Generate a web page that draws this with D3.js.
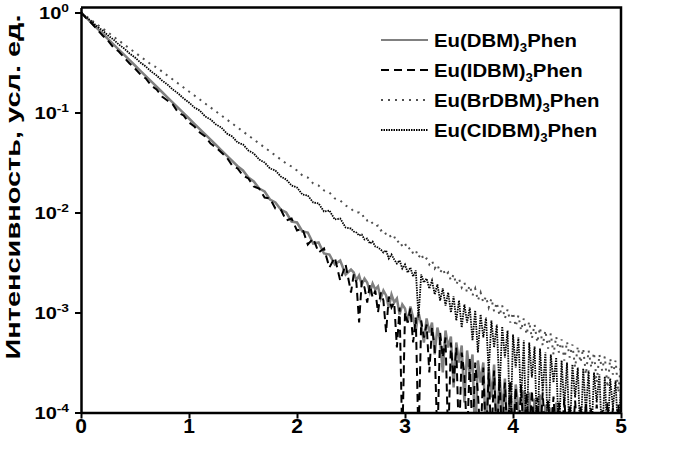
<!DOCTYPE html>
<html><head><meta charset="utf-8">
<script src="https://cdn.jsdelivr.net/npm/d3@7"></script>
<style>
body{margin:0;background:#fff}
svg{display:block}
text{font-family:Arial,"Liberation Sans",sans-serif;font-weight:bold;fill:#000}
</style>
</head><body>
<svg id="c" width="678" height="452"></svg>
<script>
// time (x axis)
const times=[0,0.05,0.1,0.15,0.2,0.25,0.3,0.35,0.4,0.45,0.5,0.55,0.6,0.65,0.7,0.75,0.8,0.85,0.9,0.95,
1,1.05,1.1,1.15,1.2,1.25,1.3,1.35,1.4,1.45,1.5,1.55,1.6,1.65,1.7,1.75,1.8,1.85,1.9,1.95,
2,2.05,2.1,2.15,2.2,2.25,2.3,2.35,2.4,2.45,
2.5,2.525,2.55,2.575,2.6,2.625,2.65,2.675,2.7,2.725,2.75,2.775,2.8,2.825,2.85,2.875,2.9,2.925,2.95,2.975,
3,3.025,3.05,3.075,3.1,3.125,3.15,3.175,3.2,3.225,3.25,3.275,3.3,3.325,3.35,3.375,3.4,3.425,3.45,3.475,
3.5,3.525,3.55,3.575,3.6,3.625,3.65,3.675,3.7,3.725,3.75,3.775,3.8,3.825,3.85,3.875,3.9,3.925,3.95,3.975,
4,4.025,4.05,4.075,4.1,4.125,4.15,4.175,4.2,4.225,4.25,4.275,4.3,4.325,4.35,4.375,4.4,4.425,4.45,4.475,
4.5,4.525,4.55,4.575,4.6,4.625,4.65,4.675,4.7,4.725,4.75,4.775,4.8,4.825,4.85,4.875,4.9,4.925,4.95,4.975,5];

// log10 of intensity
const dbmLog=[0,-0.053,-0.106,-0.159,-0.212,-0.265,-0.318,-0.371,-0.424,-0.477,
-0.53,-0.583,-0.636,-0.689,-0.742,-0.795,-0.848,-0.901,-0.954,-1.007,
-1.06,-1.113,-1.166,-1.219,-1.272,-1.325,-1.378,-1.431,-1.484,-1.537,
-1.58,-1.65,-1.69,-1.76,-1.79,-1.87,-1.90,-1.97,-2.00,-2.09,
-2.10,-2.19,-2.20,-2.31,-2.30,-2.41,-2.42,-2.52,-2.48,-2.62,
-2.57,-2.60,-2.68,-2.63,-2.72,-2.66,-2.70,-2.80,-2.71,-2.77,-2.74,-2.86,-2.78,-2.83,-2.95,-2.82,-2.90,-2.86,-3.02,-2.92,
-2.96,-3.10,-2.94,-3.05,-3.18,-3.00,-3.12,-3.30,-3.06,-3.20,-3.10,-3.42,-3.15,-3.28,-3.60,-3.18,-3.35,-3.24,-3.75,-3.30,
-3.50,-3.33,-3.90,-3.38,-3.62,-3.42,-4.3,-3.48,-3.70,-3.50,-4.3,-3.55,-3.85,-3.52,-4.3,-3.62,-4.0,-3.66,-4.3,-3.70,
-4.3,-3.72,-3.95,-4.3,-3.78,-4.3,-3.80,-4.3,-3.86,-4.3,-3.82,-4.3,-3.92,-4.3,-3.95,-4.3,-3.90,-4.3,-4.3,-3.98,
-4.3,-4.3,-4.3,-4.3,-4.3,-3.96,-4.3,-4.3,-4.3,-4.3,-4.3,-4.3,-4.3,-4.3,-4.3,-4.3,-4.3,-4.3,-4.3,-4.3,-4.3];

const idbmLog=[0,-0.06,-0.11,-0.17,-0.23,-0.28,-0.35,-0.39,-0.45,-0.51,
-0.56,-0.62,-0.66,-0.73,-0.77,-0.84,-0.88,-0.92,-1.00,-1.03,
-1.10,-1.14,-1.20,-1.24,-1.31,-1.35,-1.40,-1.45,-1.53,-1.56,
-1.63,-1.66,-1.74,-1.76,-1.85,-1.86,-1.96,-1.97,-2.08,-2.06,
-2.18,-2.16,-2.32,-2.26,-2.40,-2.36,-2.55,-2.45,-2.68,-2.52,
-2.80,-2.62,-2.70,-3.10,-2.68,-2.75,-2.90,-2.72,-2.85,-2.78,-3.00,-2.80,-2.88,-3.20,-2.84,-2.95,-2.90,-3.35,-2.95,-4.3,
-3.00,-3.10,-2.96,-3.30,-3.05,-4.3,-3.08,-3.25,-3.12,-3.60,-3.15,-3.35,-4.3,-3.20,-3.45,-3.25,-4.3,-3.30,-3.70,-3.35,
-4.3,-3.40,-3.62,-4.3,-3.45,-4.3,-3.50,-3.80,-4.3,-3.55,-4.3,-3.60,-4.3,-3.58,-4.3,-3.66,-4.3,-3.70,-4.3,-3.68,
-4.3,-3.75,-4.3,-3.72,-4.3,-3.80,-4.3,-3.78,-4.3,-3.85,-4.3,-3.80,-4.3,-3.88,-4.3,-3.84,-4.3,-3.90,-4.3,-3.86,
-4.3,-3.92,-4.3,-3.88,-4.3,-3.94,-4.3,-3.90,-4.3,-3.95,-4.3,-3.92,-4.3,-3.96,-4.3,-3.90,-4.3,-3.95,-4.3,-3.92,-4.3];

const brdbmLog=[0,-0.04,-0.08,-0.12,-0.16,-0.20,-0.24,-0.28,-0.32,-0.36,
-0.40,-0.44,-0.48,-0.52,-0.55,-0.59,-0.63,-0.67,-0.71,-0.75,
-0.79,-0.83,-0.87,-0.91,-0.95,-0.99,-1.03,-1.07,-1.11,-1.15,
-1.19,-1.23,-1.27,-1.31,-1.35,-1.39,-1.43,-1.47,-1.51,-1.54,
-1.58,-1.63,-1.65,-1.71,-1.73,-1.78,-1.80,-1.86,-1.88,-1.93,
-1.96,-1.99,-2.00,-2.00,-2.04,-2.03,-2.08,-2.07,-2.11,-2.14,-2.13,-2.18,-2.17,-2.22,-2.21,-2.26,-2.24,-2.30,-2.28,-2.34,
-2.31,-2.37,-2.35,-2.41,-2.38,-2.45,-2.41,-2.48,-2.46,-2.52,-2.48,-2.56,-2.52,-2.60,-2.56,-2.63,-2.60,-2.68,-2.62,-2.72,
-2.66,-2.75,-2.70,-2.80,-2.73,-2.83,-2.76,-2.88,-2.80,-2.90,-2.84,-2.95,-2.86,-2.99,-2.90,-3.03,-2.93,-3.06,-2.97,-3.10,
-3.00,-3.14,-3.03,-3.18,-3.06,-3.22,-3.09,-3.26,-3.12,-3.30,-3.15,-3.33,-3.18,-3.36,-3.21,-3.42,-3.24,-3.40,-3.27,-3.48,
-3.29,-3.45,-3.32,-3.55,-3.34,-3.50,-3.36,-3.62,-3.38,-3.55,-3.40,-3.70,-3.42,-3.58,-3.44,-3.75,-3.46,-3.62,-3.48,-3.80,-3.50];

const cldbmLog=[0,-0.05,-0.09,-0.14,-0.18,-0.23,-0.27,-0.32,-0.36,-0.41,
-0.45,-0.50,-0.54,-0.59,-0.63,-0.68,-0.72,-0.77,-0.81,-0.86,
-0.90,-0.95,-0.98,-1.04,-1.07,-1.12,-1.15,-1.21,-1.24,-1.30,
-1.32,-1.38,-1.41,-1.47,-1.50,-1.56,-1.58,-1.64,-1.67,-1.73,
-1.75,-1.82,-1.83,-1.90,-1.91,-1.99,-1.98,-2.07,-2.06,-2.15,
-2.16,-2.19,-2.20,-2.23,-2.22,-2.27,-2.26,-2.31,-2.29,-2.34,-2.35,-2.37,-2.40,-2.38,-2.46,-2.42,-2.47,-2.51,-2.48,-2.56,
-2.52,-2.60,-2.55,-2.64,-2.58,-3.05,-2.62,-2.70,-2.66,-2.76,-2.68,-2.82,-2.72,-2.88,-2.76,-2.93,-2.80,-3.00,-2.84,-3.08,
-2.88,-3.15,-2.92,-3.10,-2.95,-3.28,-2.98,-3.40,-3.02,-3.25,-3.05,-3.60,-3.08,-3.35,-3.12,-3.80,-3.14,-3.45,-3.18,-4.3,
-3.22,-3.55,-3.25,-3.90,-3.28,-4.3,-3.30,-3.65,-3.34,-4.3,-3.36,-3.80,-3.40,-4.3,-3.42,-3.70,-3.45,-4.3,-3.48,-3.95,
-3.50,-4.3,-3.52,-3.85,-3.55,-4.3,-3.56,-4.0,-3.58,-4.3,-3.60,-3.90,-3.62,-4.3,-3.64,-4.3,-3.66,-3.95,-3.68,-4.3,-3.70];

const seriesNames=["DBM","IDBM","BrDBM","ClDBM"];
const xTicks=[0,1,2,3,4,5];
const yTickExps=[0,-1,-2,-3,-4];
const yLabel="Интенсивность, усл. ед.";

const styles={
  DBM:{color:"#808080",width:2.5,dash:null},
  IDBM:{color:"#000",width:2,dash:"8,5"},
  BrDBM:{color:"#505050",width:2,dash:"2,5"},
  ClDBM:{color:"#000",width:1.8,dash:"1.5,1"}
};
const seriesData={DBM:dbmLog,IDBM:idbmLog,BrDBM:brdbmLog,ClDBM:cldbmLog};

const svg=d3.select("#c");
const x=d3.scaleLinear().domain([0,5]).range([81,621]);
const y=d3.scaleLog().domain([1e-4,Math.pow(10,0.05)]).range([412.5,7.5]);
const [x0,x1]=x.range(); const [yb,yt]=y.range();

svg.append("clipPath").attr("id","clip").append("rect")
  .attr("x",x0).attr("y",yt).attr("width",x1-x0).attr("height",yb-yt);

const line=d3.line().x((d,i)=>x(times[i])).y(d=>y(Math.pow(10,d)));
const plot=svg.append("g").attr("clip-path","url(#clip)");
seriesNames.forEach(n=>{
  const s=styles[n];
  plot.append("path").datum(seriesData[n]).attr("d",line)
    .attr("fill","none").attr("stroke",s.color).attr("stroke-width",s.width)
    .attr("stroke-dasharray",s.dash).attr("stroke-linejoin","miter");
});

// frame
svg.append("path").attr("d",`M${x0},${yt}H${x1}V${yb}`).attr("fill","none")
  .attr("stroke","#000").attr("stroke-width",2.5);

// axes
const xAxis=d3.axisBottom(x).tickValues(xTicks).tickSize(6).tickSizeOuter(0).tickFormat("");
const gx=svg.append("g").attr("transform",`translate(0,${yb})`).call(xAxis);
const yAxis=d3.axisLeft(y).tickValues(yTickExps.map(e=>Math.pow(10,e))).tickSize(6).tickSizeOuter(0).tickFormat("");
const gy=svg.append("g").attr("transform",`translate(${x0},0)`).call(yAxis);
[gx,gy].forEach(g=>{
  g.select(".domain").attr("stroke","#000").attr("stroke-width",2.5);
  g.selectAll(".tick line").attr("stroke","#000").attr("stroke-width",2);
});

// x tick labels
svg.selectAll(".xl").data(xTicks).enter().append("text")
  .attr("x",d=>x(d)).attr("y",433).attr("text-anchor","middle")
  .style("font-size","21px").text(d=>d);

// y tick labels
yTickExps.forEach(e=>{
  const t=svg.append("text").attr("text-anchor","end")
    .attr("transform",`translate(69,${y(Math.pow(10,e))+6}) scale(1.25,1)`)
    .style("font-size","16px");
  t.append("tspan").text("10");
  t.append("tspan").attr("dy",-7).style("font-size","11px").text(e===0?"0":"-"+(-e));
});

// y axis label
svg.append("text").attr("transform","translate(20,187) rotate(-90)")
  .attr("text-anchor","middle").style("font-size","21px")
  .attr("textLength",345).attr("lengthAdjust","spacingAndGlyphs").text(yLabel);

// legend
const legendLabels={DBM:"DBM",IDBM:"IDBM",BrDBM:"BrDBM",ClDBM:"ClDBM"};
seriesNames.forEach((n,i)=>{
  const s=styles[n]; const ly=40+i*30;
  svg.append("line").attr("x1",381).attr("x2",428).attr("y1",ly).attr("y2",ly)
    .attr("stroke",s.color).attr("stroke-width",Math.min(s.width,2)).attr("stroke-dasharray",s.dash);
  const t=svg.append("text").attr("transform",`translate(434,${ly+6.5}) scale(1.1,1)`)
    .style("font-size","18.5px");
  t.append("tspan").text("Eu("+legendLabels[n]+")");
  t.append("tspan").attr("dy",5).style("font-size","12px").text("3");
  t.append("tspan").attr("dy",-5).text("Phen");
});
</script>
</body></html>
